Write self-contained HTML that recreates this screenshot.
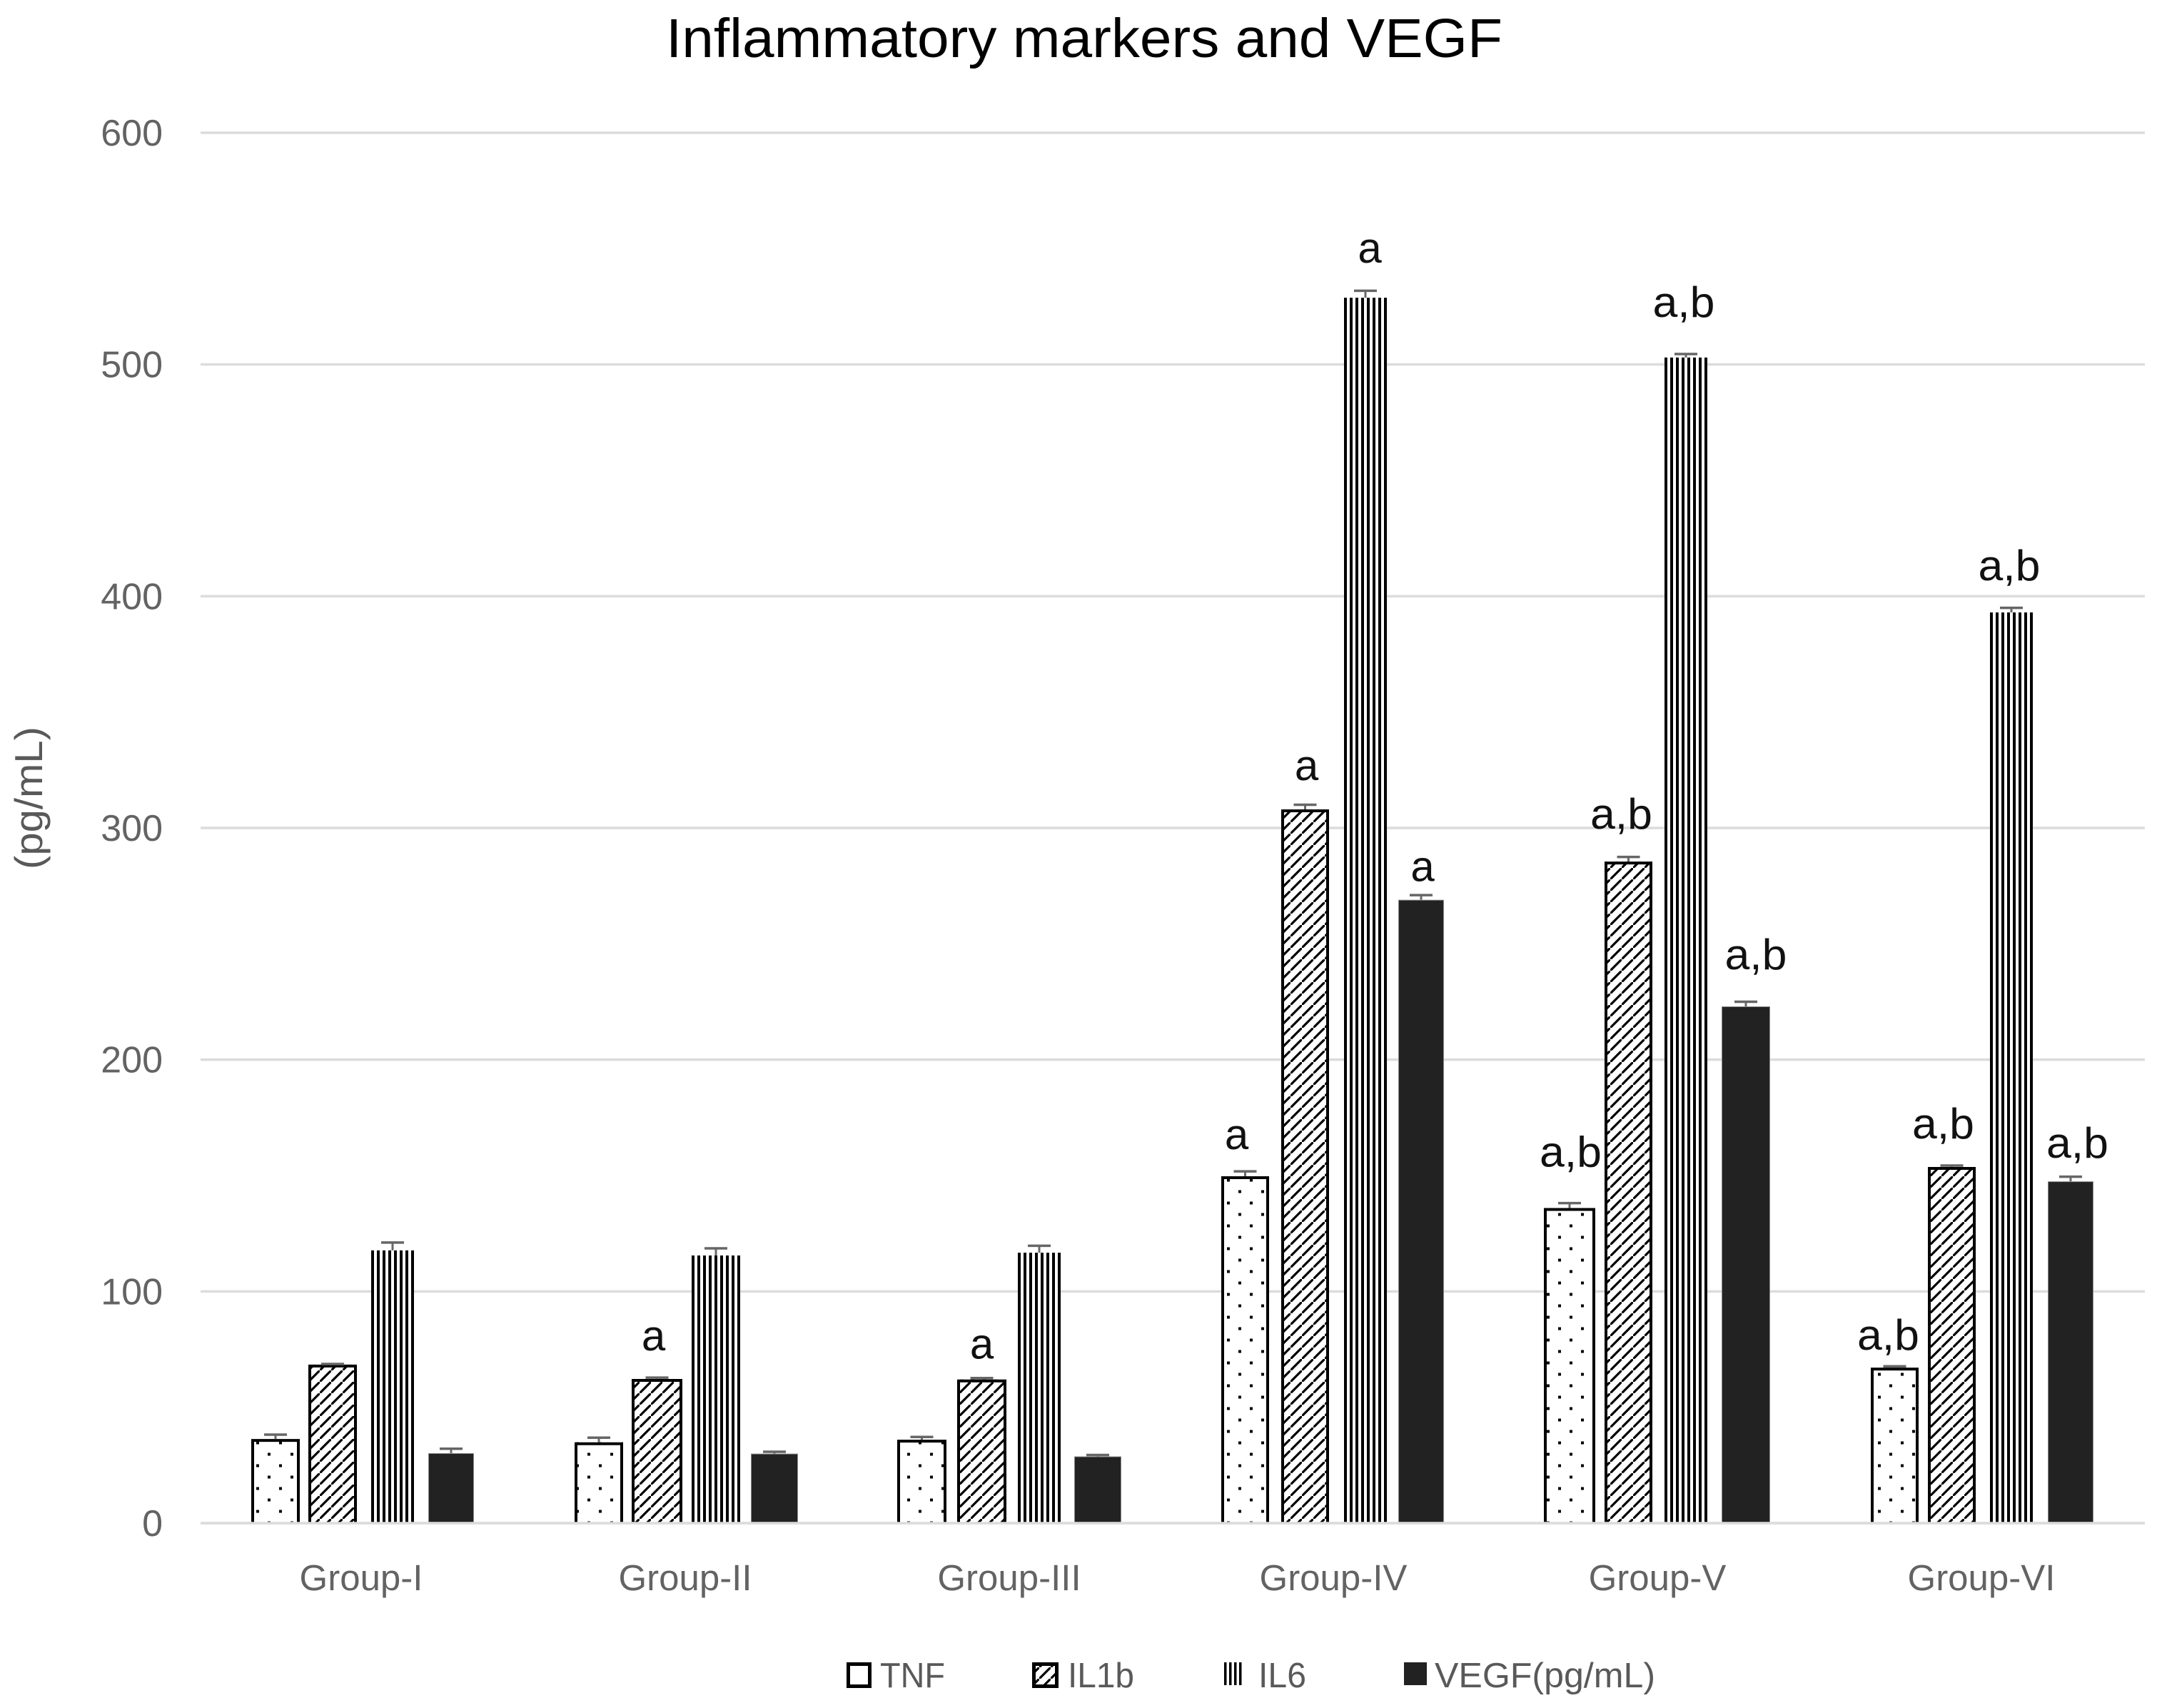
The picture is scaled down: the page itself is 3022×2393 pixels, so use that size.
<!DOCTYPE html>
<html lang="en">
<head>
<meta charset="utf-8">
<title>Inflammatory markers and VEGF</title>
<style>
  html, body { margin: 0; padding: 0; background: #ffffff; }
  svg { display: block; font-family: "Liberation Sans", sans-serif; }
</style>
</head>
<body>
<svg id="chart" xmlns="http://www.w3.org/2000/svg" width="3022" height="2393" viewBox="0 0 3022 2393">
  <defs>
    <pattern id="dots" patternUnits="userSpaceOnUse" width="32" height="32">
      <rect width="32" height="32" fill="#fff"/>
      <rect x="7" y="3.5" width="4" height="4" fill="#000"/>
      <rect x="23" y="19.5" width="4" height="4" fill="#000"/>
    </pattern>
    <pattern id="hatch" patternUnits="userSpaceOnUse" width="16" height="16">
      <rect width="16" height="16" fill="#fff"/>
      <path d="M-4 20 L20 -4" stroke="#000" stroke-width="3.2" fill="none"/>
    </pattern>
    <pattern id="legend-stripes" patternUnits="userSpaceOnUse" width="7" height="7" patternTransform="translate(1715 0)">
      <rect width="7" height="7" fill="#fff"/>
      <rect width="3.5" height="7" fill="#000"/>
    </pattern>
  </defs>

  <rect width="3022" height="2393" fill="#ffffff"/>

  <text x="933" y="80" font-size="77" fill="#000" textLength="1172" lengthAdjust="spacingAndGlyphs">Inflammatory markers and VEGF</text>

  <text transform="translate(59 1218) rotate(-90)" font-size="55" fill="#595959" textLength="200" lengthAdjust="spacingAndGlyphs">(pg/mL)</text>

  <g id="grid"></g>
  <g id="y-ticks"></g>
  <g id="x-ticks"></g>
  <g id="bars"></g>
  <g id="errors"></g>
  <g id="sig"></g>

  <g>
    <g>
      <rect x="1188.5" y="2331.5" width="30" height="31" fill="#fff" stroke="#000" stroke-width="5"/>
      <text x="1233" y="2364" font-size="49" fill="#595959" textLength="91" lengthAdjust="spacingAndGlyphs">TNF</text>
    </g>
    <g>
      <rect x="1448.5" y="2331.5" width="32" height="31" fill="url(#hatch)" stroke="#000" stroke-width="5"/>
      <text x="1496" y="2364" font-size="49" fill="#595959" textLength="93" lengthAdjust="spacingAndGlyphs">IL1b</text>
    </g>
    <g>
      <rect x="1715" y="2329" width="28" height="32" fill="url(#legend-stripes)"/>
      <text x="1763" y="2364" font-size="49" fill="#595959" textLength="67" lengthAdjust="spacingAndGlyphs">IL6</text>
    </g>
    <g>
      <rect x="1967" y="2329" width="32" height="32" fill="#222222"/>
      <text x="2010" y="2364" font-size="49" fill="#595959" textLength="309" lengthAdjust="spacingAndGlyphs">VEGF(pg/mL)</text>
    </g>
  </g>
</svg>

<script>
// ---- chart data ----
const categories = ["Group-I", "Group-II", "Group-III", "Group-IV", "Group-V", "Group-VI"];
const seriesNames = ["TNF", "IL1b", "IL6", "VEGF"];
const yTicks = [0, 100, 200, 300, 400, 500, 600];

const tnfValues  = [36.3, 34.9, 36.0, 149.7, 136.0, 67.1];
const il1bValues = [68.4, 62.2, 62.0, 308.0, 285.5, 153.7];
const il6Values  = [117.7, 115.5, 116.7, 528.8, 503.0, 393.0];
const vegfValues = [30.2, 30.0, 28.8, 269.0, 223.0, 147.5];

const tnfErrors  = [1.9, 2.0, 1.2, 2.1, 2.1, 0.6];
const il1bErrors = [0.3, 0.6, 0.6, 2.0, 2.0, 0.6];
const il6Errors  = [3.4, 3.1, 3.0, 3.0, 1.5, 2.0];
const vegfErrors = [1.9, 0.8, 0.6, 2.0, 2.0, 2.0];

const tnfSig  = ["", "", "", "a", "a,b", "a,b"];
const il1bSig = ["", "a", "a", "a", "a,b", "a,b"];
const il6Sig  = ["", "", "", "a", "a,b", "a,b"];
const vegfSig = ["", "", "", "a", "a,b", "a,b"];

// ---- layout (irregular spacing of the original figure, per series then group) ----
const plot = { left: 281, right: 3005, y0: 2134, y600: 186, firstBar: 352, groupStep: 454, labelFirst: 506, labelStep: 454 };
const seriesOffset = [0, 82, 168, 248];
const seriesWidth = [67, 67, 60, 64];
const nudgeX = [
  [0, -1, -3, -3, -5, -1],
  [-2, -3, -1, -1, -2, -3],
  [0, -5, -2, 1, -4, -2],
  [0, -2, -3, -3, -4, -1]
];
const nudgeW = [
  [1, 1, 2, 0, 5, 0],
  [1, 4, 2, 0, 0, 0],
  [0, 8, 0, 0, 0, 0],
  [0, 2, 2, 0, 4, 0]
];
const sigDx = [
  [0, 0, 0, -12, 1.5, -9],
  [0, -5, 0, 2, -10, -12],
  [0, 0, 0, 6, -3, -3],
  [0, 0, 0, 2, 14, 9.5]
];
const sigLift = [
  [0, 0, 0, 38, 58, 25],
  [0, 40, 29, 41, 46, 40],
  [0, 0, 0, 49, 57, 45],
  [0, 0, 0, 26, 52, 33]
];

const allValues = [tnfValues, il1bValues, il6Values, vegfValues];
const allErrors = [tnfErrors, il1bErrors, il6Errors, vegfErrors];
const allSig = [tnfSig, il1bSig, il6Sig, vegfSig];

const NS = "http://www.w3.org/2000/svg";
function el(tag, attrs, parent) {
  const n = document.createElementNS(NS, tag);
  for (const k in attrs) n.setAttribute(k, attrs[k]);
  parent.appendChild(n);
  return n;
}
function yScale(v) { return plot.y0 - v * (plot.y0 - plot.y600) / 600; }
function barLeft(s, g) { return plot.firstBar + g * plot.groupStep + seriesOffset[s] + nudgeX[s][g]; }
function barWidth(s, g) { return seriesWidth[s] + nudgeW[s][g]; }
function slug(t) { return t.toLowerCase().replace(/[^a-z0-9]+/g, "-"); }

const svgRoot = document.getElementById("chart");
const defs = svgRoot.querySelector("defs");
const gridG = document.getElementById("grid");
const yG = document.getElementById("y-ticks");
const xG = document.getElementById("x-ticks");
const barsG = document.getElementById("bars");
const errG = document.getElementById("errors");
const sigG = document.getElementById("sig");

yTicks.forEach(function (t) {
  const line = el("line", { x1: plot.left, x2: plot.right, y1: yScale(t), y2: yScale(t), stroke: "#dcdcdc", "stroke-width": 3.5 }, gridG);
  
  
  const label = el("text", { x: 228, y: yScale(t) + 18, "text-anchor": "end", "font-size": 52, fill: "#636363" }, yG);
  
  
  label.textContent = String(t);
});

categories.forEach(function (c, g) {
  const label = el("text", { x: plot.labelFirst + g * plot.labelStep, y: 2228, "text-anchor": "middle", "font-size": 51, fill: "#636363" }, xG);
  
  
  label.textContent = c;
});

seriesNames.forEach(function (name, s) {
  categories.forEach(function (c, g) {
    const v = allValues[s][g];
    const x = barLeft(s, g);
    const w = barWidth(s, g);
    const top = yScale(v);
    const h = plot.y0 - top;
    const cx = x + w / 2;
    let bar;
    if (s === 0 || s === 1) {
      bar = el("rect", { x: x, y: top, width: w, height: h, fill: s === 0 ? "url(#dots)" : "url(#hatch)" }, barsG);
      const border = el("path", { d: "M" + (x + 2) + " " + plot.y0 + "V" + (top + 2) + "H" + (x + w - 2) + "V" + plot.y0, fill: "none", stroke: "#000", "stroke-width": 4 }, barsG);
      
      
    } else if (s === 2) {
      const pid = "stripes-" + g;
      const p = el("pattern", { id: pid, patternUnits: "userSpaceOnUse", width: 8, height: 8, patternTransform: "translate(" + x + " 0)" }, defs);
      el("rect", { width: 8, height: 8, fill: "#fff" }, p);
      el("rect", { width: 4, height: 8, fill: "#000" }, p);
      bar = el("rect", { x: x, y: top, width: w, height: h, fill: "url(#" + pid + ")" }, barsG);
    } else {
      bar = el("rect", { x: x + 0.5, y: top + 0.5, width: w - 1, height: h, fill: "#222222", stroke: "#8a8a8a", "stroke-width": 1 }, barsG);
    }
    
    

    const capY = yScale(v + allErrors[s][g]);
    const stem = el("line", { x1: cx, x2: cx, y1: top, y2: capY, stroke: "#6a6a6a", "stroke-width": 3 }, errG);
    
    
    const cap = el("line", { x1: cx - 16, x2: cx + 16, y1: capY, y2: capY, stroke: "#666666", "stroke-width": 3.5 }, errG);
    
    

    const sig = allSig[s][g];
    if (sig) {
      const attrs = { x: cx + sigDx[s][g], y: top - sigLift[s][g], "text-anchor": "middle", "font-size": 60, fill: "#111111" };
      if (sig.length > 1) { attrs.textLength = 87; attrs.lengthAdjust = "spacingAndGlyphs"; }
      const t = el("text", attrs, sigG);
      
      
      t.textContent = sig;
    }
  });
});

const axisLine = el("line", { x1: plot.left, x2: plot.right, y1: plot.y0, y2: plot.y0, stroke: "#dcdcdc", "stroke-width": 3.5 }, svgRoot);


</script>
</body>
</html>
